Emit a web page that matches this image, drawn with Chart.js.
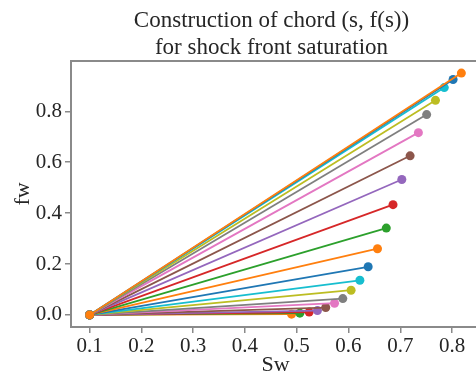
<!DOCTYPE html>
<html>
<head>
<meta charset="utf-8">
<script src="https://cdn.jsdelivr.net/npm/chart.js@4/dist/chart.umd.min.js"></script>
<style>
  html, body { margin: 0; padding: 0; background: #fff; overflow: hidden; }
  #wrap { width: 490px; height: 376px; }
</style>
</head>
<body>
<div id="wrap"><canvas id="chord-chart"></canvas></div>
<script>
// Chord from the initial saturation to each candidate front saturation
const swInit = 0.1;
const fwInit = 0.0;

// End points (s, f(s))
const sw = [0.490, 0.506, 0.524, 0.540, 0.556, 0.573, 0.589, 0.605, 0.622, 0.638, 0.656,
            0.673, 0.686, 0.703, 0.719, 0.735, 0.751, 0.768, 0.785, 0.802, 0.818];
const fw = [0.003, 0.007, 0.011, 0.017, 0.029, 0.046, 0.064, 0.097, 0.136, 0.189, 0.260,
            0.341, 0.433, 0.532, 0.625, 0.716, 0.787, 0.843, 0.893, 0.925, 0.950];

const xTicks = [0.1, 0.2, 0.3, 0.4, 0.5, 0.6, 0.7, 0.8];
const yTicks = [0.0, 0.2, 0.4, 0.6, 0.8];

const titleLines = ['Construction of chord (s, f(s))', 'for shock front saturation'];

// matplotlib tab10
const colours = ['#1f77b4', '#ff7f0e', '#2ca02c', '#d62728', '#9467bd',
                 '#8c564b', '#e377c2', '#7f7f7f', '#bcbd22', '#17becf'];

const frameColour = '#8a8a8a';
const textColour = '#262626';
const serif = "'Liberation Serif', 'DejaVu Serif', serif";

makeDatasets = function () {
  const n = sw.length;
  const sets = [];
  for (let i = 0; i < n; i++) {
    const c = colours[(i + 1) % 10];
    sets.push({
      data: [{ x: swInit, y: fwInit }, { x: sw[i], y: fw[i] }],
      showLine: true,
      borderColor: c,
      backgroundColor: c,
      borderWidth: 1.8,
      pointRadius: 4.5,
      pointBorderWidth: 0,
      pointBackgroundColor: c,
      order: n - i   // later chords drawn on top
    });
  }
  return sets;
};

// frame round the plot area and the two line title
const framePlugin = {
  id: 'frame',
  afterDraw: function (chart) {
    const a = chart.chartArea;
    const ctx = chart.ctx;
    ctx.save();
    ctx.strokeStyle = frameColour;
    ctx.lineWidth = 2;
    ctx.strokeRect(a.left, a.top, a.right - a.left, a.bottom - a.top);
    ctx.fillStyle = textColour;
    ctx.font = '23px ' + serif;
    ctx.textAlign = 'center';
    ctx.textBaseline = 'alphabetic';
    const cx = (a.left + a.right) / 2 - 4;
    ctx.fillText(titleLines[0], cx, 27);
    ctx.fillText(titleLines[1], cx, 54);
    ctx.restore();
  }
};

var ctx = document.getElementById('chord-chart').getContext('2d');
var chordChart = new Chart(ctx, {
  type: 'scatter',
  data: { datasets: makeDatasets() },
  options: {
    responsive: true,
    maintainAspectRatio: false,
    animation: false,
    layout: { padding: { top: 61, right: 10, bottom: 0, left: 0 } },
    scales: {
      x: {
        type: 'linear',
        min: 0.064,
        max: 0.854,
        afterBuildTicks: function (scale) {
          scale.ticks = xTicks.map(v => ({ value: v }));
        },
        afterFit: function (scale) { scale.height = 49; },
        grid: { display: true, drawOnChartArea: false, drawTicks: true, tickLength: 6, color: frameColour, lineWidth: 1.5 },
        border: { display: false },
        ticks: {
          color: textColour,
          padding: 1,
          maxRotation: 0,
          font: { family: serif, size: 21 },
          callback: v => v.toFixed(1)
        },
        title: {
          display: true,
          text: 'Sw',
          color: textColour,
          padding: { top: 0, bottom: 0 },
          font: { family: serif, size: 22, lineHeight: 1 }
        }
      },
      y: {
        type: 'linear',
        min: -0.0475,
        max: 0.9975,
        afterBuildTicks: function (scale) {
          scale.ticks = yTicks.map(v => ({ value: v }));
        },
        afterFit: function (scale) { scale.width = 71; },
        grid: { display: true, drawOnChartArea: false, drawTicks: true, tickLength: 6, color: frameColour, lineWidth: 1.5 },
        border: { display: false },
        ticks: {
          color: textColour,
          padding: 3,
          font: { family: serif, size: 21 },
          callback: v => v.toFixed(1)
        },
        title: {
          display: true,
          text: 'fw',
          color: textColour,
          padding: { top: 10, bottom: 0 },
          font: { family: serif, size: 22, lineHeight: 1.2 }
        }
      }
    },
    plugins: {
      legend: { display: false },
      tooltip: { enabled: false },
      title: { display: false }
    }
  },
  plugins: [framePlugin]
});
</script>
</body>
</html>
